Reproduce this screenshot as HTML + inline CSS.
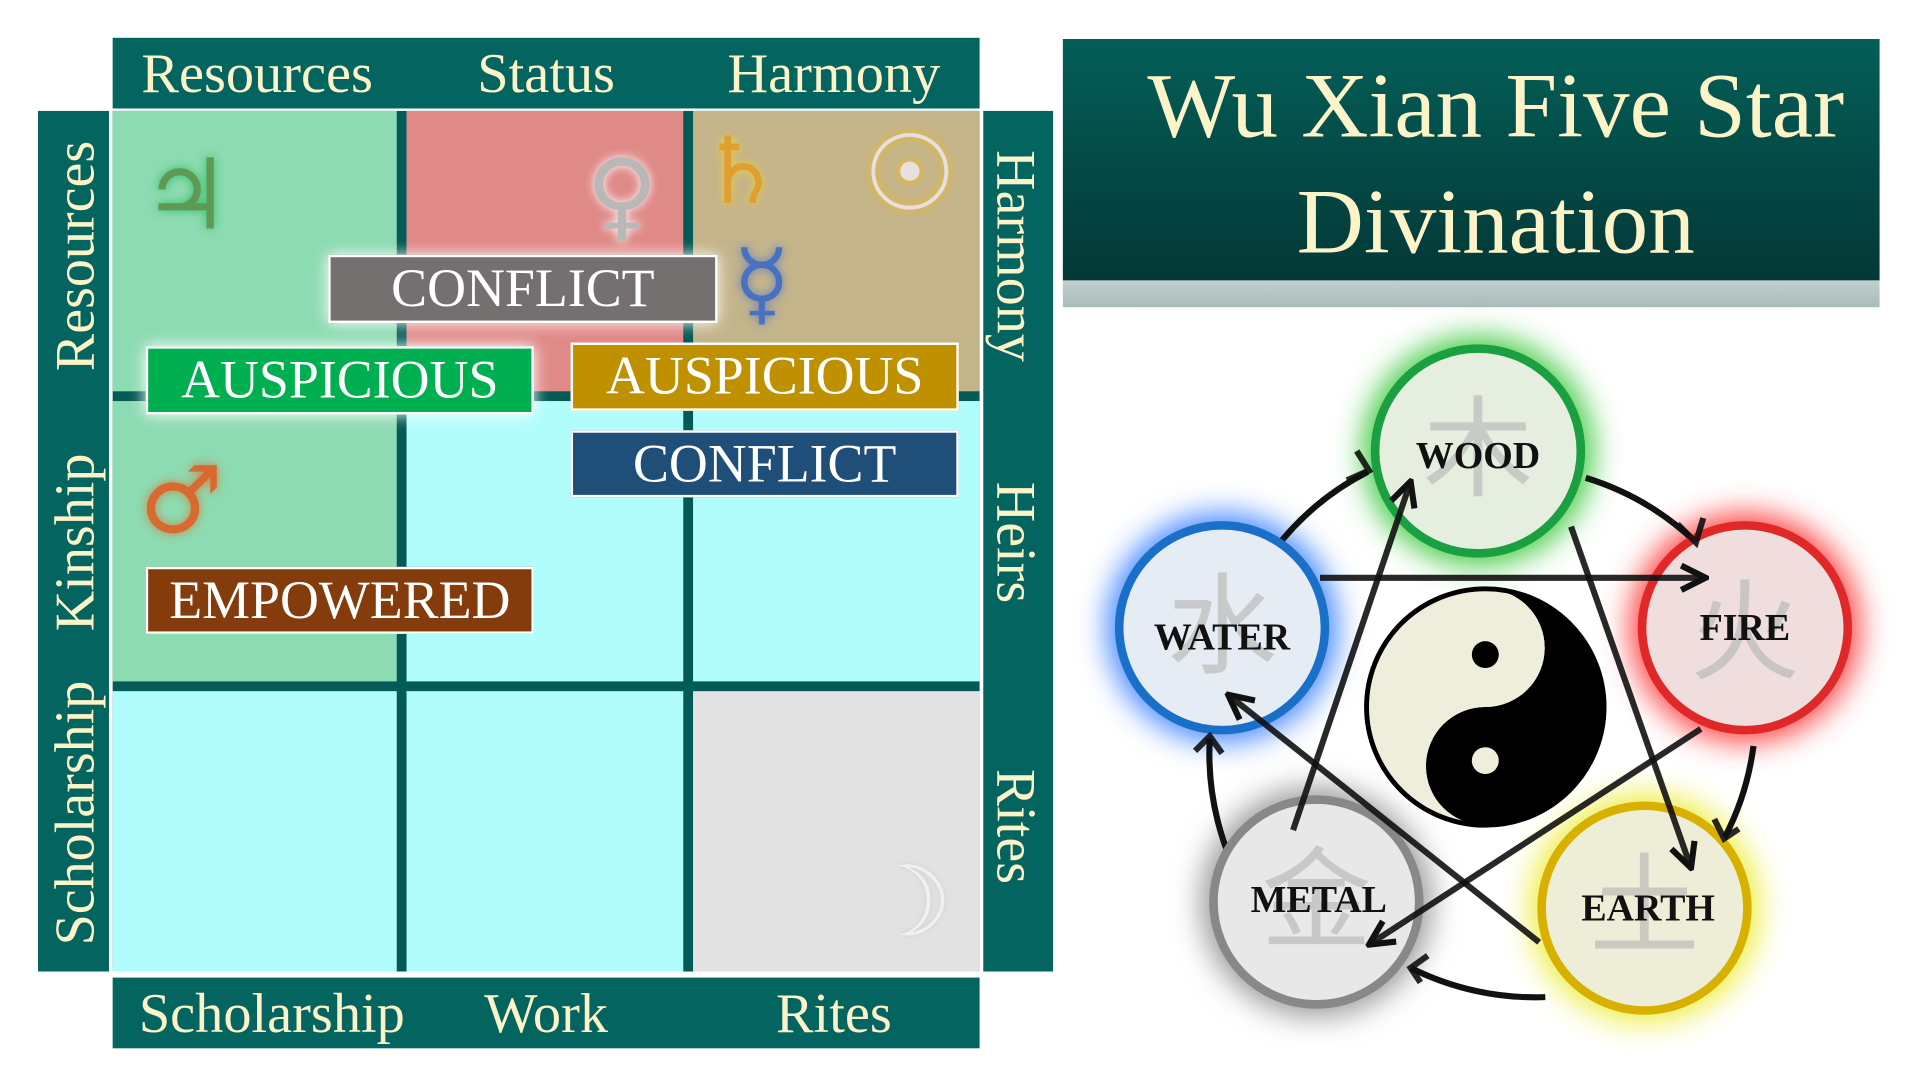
<!DOCTYPE html>
<html><head><meta charset="utf-8"><style>
html,body{margin:0;padding:0;background:#fff;width:1920px;height:1080px;overflow:hidden}
#w{position:absolute;left:0;top:0;width:1568px;height:886px;transform-origin:0 0;transform:scale(1.22449,1.21896);font-family:"Liberation Serif",serif}
.a{position:absolute}
.bar{background:#046560;position:absolute}
.t{position:absolute;color:#fdf3c8;font-size:46px;white-space:nowrap;transform:translate(-50%,-50%)}
.lab{position:absolute;color:#fff;font-size:44px;text-align:center;box-sizing:border-box;border:2px solid #fff;line-height:52px}
.sym{position:absolute;font-family:"DejaVu Sans",sans-serif;transform:translate(-50%,-50%)}
</style></head><body><div id="w">
<div class="bar" style="left:92px;top:31px;width:708px;height:58px"></div>
<div class="bar" style="left:31px;top:91px;width:58px;height:706px"></div>
<div class="bar" style="left:803px;top:91px;width:57px;height:706px"></div>
<div class="bar" style="left:92px;top:802px;width:708px;height:58px"></div>
<div class="t" style="left:210px;top:60px">Resources</div>
<div class="t" style="left:446px;top:60px">Status</div>
<div class="t" style="left:681px;top:60px">Harmony</div>
<div class="t" style="left:222px;top:831px">Scholarship</div>
<div class="t" style="left:446px;top:831px">Work</div>
<div class="t" style="left:681px;top:831px">Rites</div>
<div class="t" style="left:61px;top:210px;transform:translate(-50%,-50%) rotate(-90deg)">Resources</div>
<div class="t" style="left:61px;top:445px;transform:translate(-50%,-50%) rotate(-90deg)">Kinship</div>
<div class="t" style="left:61px;top:667px;transform:translate(-50%,-50%) rotate(-90deg)">Scholarship</div>
<div class="t" style="left:830px;top:210px;transform:translate(-50%,-50%) rotate(90deg)">Harmony</div>
<div class="t" style="left:830px;top:445px;transform:translate(-50%,-50%) rotate(90deg)">Heirs</div>
<div class="t" style="left:830px;top:678px;transform:translate(-50%,-50%) rotate(90deg)">Rites</div>
<!-- grid -->
<div class="a" style="left:92px;top:91px;width:708px;height:706px;background:#045a56"></div>
<div class="a" style="left:92px;top:91px;width:232px;height:230px;background:#8ddbb2"></div>
<div class="a" style="left:332px;top:91px;width:226px;height:230px;background:#e08a88"></div>
<div class="a" style="left:566px;top:91px;width:234px;height:230px;background:#c4b48a"></div>
<div class="a" style="left:92px;top:329px;width:232px;height:230px;background:#8ddbb2"></div>
<div class="a" style="left:332px;top:329px;width:226px;height:230px;background:#b0fdfc"></div>
<div class="a" style="left:566px;top:329px;width:234px;height:230px;background:#b0fdfc"></div>
<div class="a" style="left:92px;top:567px;width:232px;height:230px;background:#b0fdfc"></div>
<div class="a" style="left:332px;top:567px;width:226px;height:230px;background:#b0fdfc"></div>
<div class="a" style="left:566px;top:567px;width:234px;height:230px;background:#e2e2e2"></div>
<div class="sym" style="left:152px;top:160px;font-size:80px;color:#5e9a55;text-shadow:0 0 8px #2fbf5f">♃</div>
<div class="sym" style="left:508px;top:160px;font-size:80px;color:#b8b8b8;text-shadow:0 0 8px #fff">♀</div>
<div class="sym" style="left:605px;top:140px;font-size:76px;color:#e0a030;text-shadow:0 0 8px #f0d040">♄</div>
<div class="sym" style="left:743px;top:143px;font-size:86px;color:#e8e0e0;text-shadow:0 0 8px #f8c000">☉</div>
<div class="sym" style="left:622px;top:232px;font-size:76px;color:#4a70c0;text-shadow:0 0 8px #6080c0">☿</div>
<div class="sym" style="left:148px;top:410px;font-size:76px;color:#d86a30;text-shadow:0 0 8px #d08040">♂</div>
<div class="sym" style="left:742px;top:740px;font-size:80px;color:#f0f0f0;text-shadow:0 0 4px #ccc">☽</div>
<div class="lab" style="left:268px;top:209px;width:318px;height:56px;background:#757070;box-shadow:0 0 12px #fff">CONFLICT</div>
<div class="lab" style="left:119px;top:284px;width:317px;height:56px;background:#00b050;box-shadow:0 0 12px #fff">AUSPICIOUS</div>
<div class="lab" style="left:466px;top:281px;width:317px;height:56px;background:#bf9000">AUSPICIOUS</div>
<div class="lab" style="left:466px;top:353px;width:317px;height:55px;background:#1f4e79">CONFLICT</div>
<div class="lab" style="left:119px;top:465px;width:317px;height:55px;background:#843c0c">EMPOWERED</div>
<!-- title -->
<div class="a" style="left:868px;top:230px;width:667px;height:22px;background:linear-gradient(#c0d0ce,#a8bcba)"></div>
<div class="a" style="left:868px;top:32px;width:667px;height:198px;background:linear-gradient(#045e58,#033836)"></div>
<div class="a" style="left:868px;top:40px;width:667px;text-align:center;color:#fdf3c8;font-size:76px;line-height:95px;padding-left:40px;box-sizing:border-box">Wu Xian Five Star<br>Divination</div>
<svg class="a" style="left:0;top:0" width="1568" height="886" viewBox="0 0 1568 886">
<defs><filter id="g" x="-50%" y="-50%" width="200%" height="200%"><feGaussianBlur stdDeviation="12"/></filter>
<marker id="ar" viewBox="0 0 10 10" refX="9" refY="5" markerWidth="5" markerHeight="5" orient="auto" markerUnits="strokeWidth"><path d="M1,1 L9,5 L1,9" fill="none" stroke="#111" stroke-width="2"/></marker></defs>
<g>
<circle cx="1207" cy="370" r="94" fill="#4c4" filter="url(#g)"/>
<circle cx="1425" cy="515" r="94" fill="#f44" filter="url(#g)"/>
<circle cx="1343" cy="745" r="94" fill="#ee4" filter="url(#g)"/>
<circle cx="1075" cy="740" r="94" fill="#999" filter="url(#g)"/>
<circle cx="998" cy="515" r="94" fill="#48f" filter="url(#g)"/>
</g>
<g fill="none" stroke="#111" stroke-width="5">
<path d="M1040,452 A226,226 0 0 1 1117,387"/>
<path d="M1295,392 A226,226 0 0 1 1385,445"/>
<path d="M1432,612 A226,226 0 0 1 1408,688"/>
<path d="M1262,818 A226,226 0 0 1 1152,794"/>
<path d="M1020,735 A226,226 0 0 1 988,606"/>
</g>
<path d="M1213,483 A97,97 0 0 1 1213,677 A48.5,48.5 0 0 1 1213,580 A48.5,48.5 0 0 0 1213,483Z" fill="#000"/>
<path d="M1213,483 A97,97 0 0 0 1213,677 A48.5,48.5 0 0 1 1213,580 A48.5,48.5 0 0 0 1213,483Z" fill="#efeedd"/>
<circle cx="1213" cy="580" r="97" fill="none" stroke="#000" stroke-width="4"/>
<circle cx="1213" cy="537" r="11" fill="#000"/>
<circle cx="1213" cy="624" r="11" fill="#efeedd"/>
<g stroke-width="7">
<circle cx="1207" cy="370" r="84" fill="#e6eedf" stroke="#1aa040"/>
<circle cx="1425" cy="515" r="84" fill="#f0dede" stroke="#e02828"/>
<circle cx="1343" cy="745" r="84" fill="#eeeed8" stroke="#d8b000"/>
<circle cx="1075" cy="740" r="84" fill="#e8e8e8" stroke="#888"/>
<circle cx="998" cy="515" r="84" fill="#e6ecf4" stroke="#1a70c8"/>
</g>
<g font-family="Noto Sans CJK SC,sans-serif" font-size="90" fill="#bbb" text-anchor="middle" opacity="0.7">
<text x="1207" y="400">木</text><text x="1425" y="550">火</text><text x="1343" y="775">土</text><text x="1075" y="770">金</text><text x="998" y="545">水</text>
</g>
<g fill="none" stroke="#111" stroke-width="5" stroke-opacity="0.9">
<line x1="1078" y1="474" x2="1393" y2="474" marker-end="url(#ar)"/>
<line x1="1283" y1="432" x2="1381" y2="712" marker-end="url(#ar)"/>
<line x1="1056" y1="681" x2="1152" y2="395" marker-end="url(#ar)"/>
<line x1="1389" y1="598" x2="1118" y2="775" marker-end="url(#ar)"/>
<line x1="1257" y1="773" x2="1003" y2="570" marker-end="url(#ar)"/>
<path d="M1100,394 L1118,386 L1108,370 M1370,430 L1385,445 L1391,425 M1420,680 L1408,688 L1400,672 M1160,806 L1152,794 L1166,784 M976,616 L988,604 L998,618"/>
</g>
<g font-family="Liberation Serif,serif" font-weight="bold" font-size="31" fill="#111" text-anchor="middle">
<text x="1207" y="384">WOOD</text><text x="1425" y="525">FIRE</text><text x="1346" y="755">EARTH</text><text x="1077" y="748">METAL</text><text x="998" y="533">WATER</text>
</g>
</svg>
</div></body></html>
